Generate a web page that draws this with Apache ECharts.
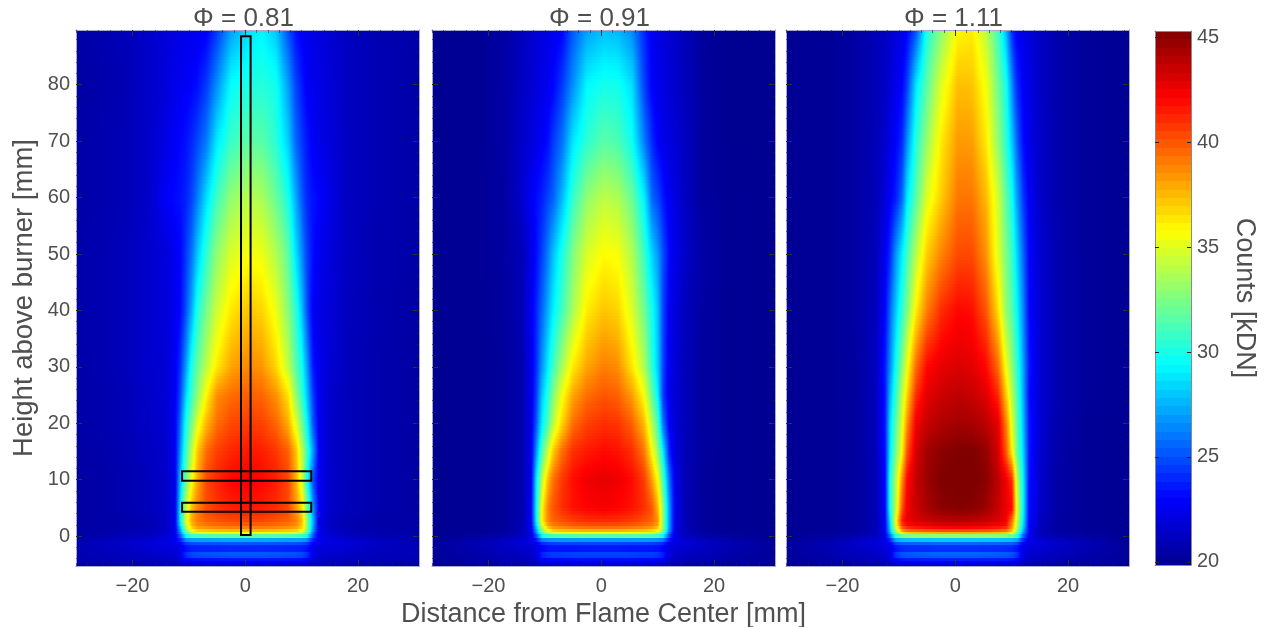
<!DOCTYPE html>
<html><head><meta charset="utf-8">
<style>html,body{margin:0;padding:0;background:#fff}#c{width:1271px;height:627px;filter:blur(0.45px)}</style>
<script src="https://cdn.jsdelivr.net/npm/echarts@6/dist/echarts.min.js"></script>
</head><body><div id="c"></div>
<script>
const panelTitles = ['Φ = 0.81','Φ = 0.91','Φ = 1.11'];
const xNodes = [-30,-22,-17,-14,-12.5,-11.5,-10.5,-9.5,-8.5,-7,-5,-2.5,0.5,3,5.5,7.5,9,10,11,12,13,15,18,23,30.8];
const yNodes = [-5.3,-4.4,-3.4,-2.1,-1,-0.3,0.4,1.2,2.5,5,10,15,20,25,30,40,50,60,70,80,89.7];
const xMajor = [-20,0,20];
const xMinor = [-30,-28,-26,-24,-22,-20,-18,-16,-14,-12,-10,-8,-6,-4,-2,0,2,4,6,8,10,12,14,16,18,20,22,24,26,28,30];
const yMajor = [0,10,20,30,40,50,60,70,80];
const yMinor = [-4,-2,0,2,4,6,8,10,12,14,16,18,20,22,24,26,28,30,32,34,36,38,40,42,44,46,48,50,52,54,56,58,60,62,64,66,68,70,72,74,76,78,80,82,84,86,88];
const barTicks = [20,25,30,35,40,45];
const jetStops = [[0,0,143],[0,0,255],[0,128,255],[0,255,255],[128,255,128],[255,255,0],[255,128,0],[255,0,0],[128,0,0]];
const overlayBoxes = [[-0.75,0.2,0.95,88.6],[-11.2,9.8,11.7,11.5],[-11.2,4.3,11.7,5.9]];

const counts081 = [
[20.6,20.9,21,21.1,21.2,21.4,21.6,21.7,21.7,21.8,21.8,21.9,21.9,21.9,21.8,21.8,21.7,21.7,21.6,21.4,21.2,21.1,21,20.9,20.7],
[20.7,21,21.2,21.3,21.5,21.9,22.3,22.5,22.6,22.6,22.7,22.7,22.7,22.7,22.7,22.6,22.6,22.5,22.3,21.9,21.5,21.3,21.2,21,20.8],
[20.8,21.1,21.4,21.6,21.8,22.4,24.6,25.3,25.5,25.6,25.7,25.8,25.8,25.8,25.7,25.6,25.5,25.3,24.6,22.4,21.8,21.6,21.4,21.1,20.9],
[20.9,21.3,21.7,21.9,22,22.3,23,23.2,23.3,23.3,23.3,23.4,23.4,23.4,23.3,23.3,23.3,23.2,23,22.3,22,21.9,21.7,21.3,21],
[20.8,21.5,22,22.3,22.5,23,25,25.5,25.6,25.6,25.7,25.8,25.8,25.8,25.7,25.6,25.6,25.5,25,23.2,22.5,22.3,22,21.5,20.9],
[20.6,21,21.5,21.9,22.5,24.5,28,28.5,28.5,28.5,28.6,28.7,28.7,28.7,28.6,28.5,28.5,28.5,28,24.7,22.5,21.9,21.5,21,20.7],
[20.5,20.8,21.1,21.6,22.5,25.5,31,33.5,34,34.3,34.5,34.5,34.5,34.5,34.5,34.3,34,33.5,31,25.5,22.5,21.6,21.1,20.8,20.6],
[20.4,20.7,21,21.5,22.5,27,33,36.5,37.7,38,38.3,38.5,38.5,38.5,38.3,38,37.7,36.5,33,27,22.5,21.5,21,20.7,20.5],
[20.4,20.6,20.9,21.4,22.4,28.8,35,38,39,39.7,40,40.3,40.4,40.3,40,39.7,39,37.5,33,27.5,22.4,21.4,20.9,20.6,20.5],
[20.4,20.7,21.1,21.5,22.4,28.5,34.3,37.5,38.8,40.2,40.9,41.4,41.6,41.5,41.1,40.4,38.3,36.5,32.3,26.8,22.6,21.6,21.1,20.7,20.4],
[20.4,20.7,21.1,21.5,22.4,27.5,32.2,35.6,37.8,40.3,41.2,42,42.3,42,41.4,40.4,37.8,34.7,30,25,22.6,21.6,21.1,20.7,20.4],
[20.4,20.8,21.3,21.6,22.7,26.5,31,34.2,37,39.4,40.6,41.2,41.6,41.4,40.8,39.8,37.4,34,31,27,22.8,21.5,21.1,20.7,20.4],
[20.5,20.9,21.4,21.7,22.7,25.5,30,32.5,34.8,37.5,39.4,40.3,40.7,40.5,39.6,37.8,35,32.2,29.4,25.2,22.6,21.5,21.1,20.7,20.4],
[20.5,20.9,21.5,21.8,22.7,24.6,28.4,31,32.8,35.8,38.6,39.4,39.8,39.6,38.5,36.5,32.9,30.6,28,24.5,22.5,21.6,21.1,20.7,20.4],
[20.5,21,21.6,21.8,22.7,24,27,30.3,31.8,34,36.3,38,38.8,38.4,36.8,34.2,31.5,29.8,27,23.6,22.5,21.8,21.2,20.7,20.4],
[20.6,21,21.6,22,22.6,23,25,27.5,30,32.3,34.5,36.3,37.2,36.8,35.3,32.8,30.4,27.8,25,22.8,22.3,21.9,21.2,20.8,20.4],
[20.6,21,21.6,22,22.7,23,24.4,26,27.9,30.5,33,34.8,35.6,35.3,33.8,31.8,28.6,26.5,24.6,23.3,22.6,22,21.3,20.8,20.5],
[20.5,20.9,21.5,22.8,23.2,23.4,23.8,24.8,26,28.5,31,33,34,33.6,32,30,27.2,25.2,24,23.4,23.1,22.3,21.3,20.9,20.5],
[20.5,20.9,21.5,22.3,22.8,23.1,23.4,24,24.7,26,28.9,30.8,31.6,31.6,30.4,28.2,25.5,24.4,23.5,22.8,22.4,22,21.3,20.9,20.5],
[20.4,20.8,21.5,22,22.4,22.6,22.8,23,23.3,24.4,26.6,29.5,30,30.3,29.8,27,24.7,23.6,22.8,22.5,22.3,21.9,21.3,20.9,20.5],
[20.5,21,21.5,22,22.2,22.3,22.4,22.5,22.6,22.8,24.4,27,28.6,29.2,28,25,23.3,22.8,22.5,22.3,22.1,21.8,21.3,20.9,20.6]
];
const counts091 = [
[20,20.3,20.6,20.8,21,21.2,21.5,21.6,21.6,21.7,21.7,21.8,21.8,21.8,21.7,21.7,21.6,21.6,21.5,21.2,21,20.8,20.6,20.3,20],
[20.1,20.5,20.8,21,21.2,21.6,22.2,22.4,22.5,22.5,22.6,22.6,22.6,22.6,22.6,22.5,22.5,22.4,22.2,21.6,21.2,21,20.8,20.5,20.1],
[20.1,20.6,21,21.2,21.5,22.2,24.2,24.8,25,25,25.1,25.2,25.2,25.2,25.1,25,25,24.8,24.2,22.2,21.5,21.2,21,20.6,20.1],
[20.2,20.8,21.3,21.6,21.8,22,22.6,22.9,23,23,23,23.1,23.1,23.1,23,23,23,22.9,22.6,22,21.8,21.6,21.3,20.8,20.2],
[20.1,20.9,21.5,22,22.2,22.6,24.5,25,25.1,25.2,25.2,25.3,25.3,25.3,25.2,25.2,25.1,25,24.5,22.8,22.2,22,21.5,20.9,20.1],
[20,20.4,21,21.5,22.2,24.2,27.8,28.3,28.4,28.4,28.5,28.5,28.5,28.5,28.5,28.4,28.4,28.3,27.8,24.5,22.2,21.5,21,20.4,20],
[20,20.1,20.4,21,22.2,25.5,31,33.5,34,34.3,34.5,34.6,34.6,34.6,34.5,34.3,34,33.5,31,25.5,22.2,21,20.4,20.1,20],
[19.9,20,20.3,21,22.3,27,33,36.6,37.8,38.2,38.5,38.7,38.8,38.7,38.5,38.2,37.8,36.6,33,27,22.3,21,20.3,20,19.9],
[19.9,20,20.2,20.9,22.4,28.8,36,38.8,39.6,40.1,40.6,40.9,41,40.9,40.6,40.1,39.6,38.5,33,27,22.4,20.9,20.2,20,19.9],
[19.9,20,20.2,20.8,22.6,29,35.8,39,40,41,41.7,42.1,42.3,42.1,41.7,41,40,37.5,33,27,22.6,20.8,20.2,20,19.9],
[19.9,20,20.2,20.8,22.4,28.5,34,37.5,39.3,40.8,41.8,42.5,42.7,42.5,41.9,40.7,38.2,35.5,31.3,26,22.4,20.9,20.2,20,19.9],
[19.9,20,20.2,20.8,22.3,26.4,31.3,34.4,37,39.4,41,41.5,41.9,41.7,41,39.2,35.8,32.8,29,24,22,21,20.3,20,19.9],
[19.9,20,20.2,20.8,22.3,25,29,31.4,34,36.8,39.4,40.5,41,40.8,39.7,37.5,33.8,31,26,22.9,21.9,21,20.3,20,19.9],
[19.9,20,20.2,20.8,22.4,24.4,28,30.3,32.6,35.5,38,39.4,40,39.7,38.2,35.6,31.9,29,24.5,22.6,21.8,21,20.3,20,19.9],
[19.9,20,20.2,20.8,22.5,24,26.8,29,31,33.5,36.3,38,39,38.6,36.4,33.8,30.5,28,24.8,22.6,21.9,21,20.3,20,19.9],
[19.9,20,20.3,21,22.6,23.8,25.6,27.4,29,31,33.6,36.2,37.2,36.8,34.8,32.2,29.8,27.8,24.8,22.7,22,21.1,20.4,20,19.9],
[19.9,20,20.4,21,22.3,23.2,24.6,26.2,27.8,30,32.6,34.8,35.8,35.5,33.8,30.9,28.3,26.8,25,23.2,22.4,21.4,20.5,20,19.9],
[19.9,20,20.4,21.7,22.7,23.2,23.8,24.7,25.4,27.6,30.7,33,34.1,33.7,32,29.2,25.6,24.7,23.6,22.7,22.2,21.2,20.3,20,19.9],
[19.9,20,20.5,21.5,22,22.4,22.8,23.3,24.4,25.8,28.8,30.5,31.6,31.2,29.7,26.2,24,22.9,22.4,22.1,21.8,21.2,20.3,19.9,19.9],
[19.9,20,20.5,21.3,21.7,22,22.3,22.6,23,24.4,26.6,29.3,29.9,29.8,28.6,24.7,22.9,22.5,22.2,21.9,21.6,21.1,20.3,19.9,19.9],
[19.9,20,20.5,21.2,21.6,21.9,22.1,22.3,22.6,23,25.2,27,27.8,27.6,26.5,24,22.7,22.3,22,21.8,21.5,21,20.2,19.9,19.9]
];
const counts111 = [
[20,20.4,20.7,20.9,21.1,21.3,21.6,21.7,21.8,21.8,21.9,21.9,21.9,21.9,21.9,21.8,21.8,21.7,21.6,21.3,21.1,20.9,20.7,20.4,20],
[20.1,20.5,20.9,21.1,21.3,21.7,22.4,22.7,22.8,22.9,22.9,23,23,23,22.9,22.9,22.8,22.7,22.4,21.7,21.3,21.1,20.9,20.5,20.1],
[20.2,20.7,21.1,21.4,21.6,22.4,24.8,25.6,25.8,25.9,26,26.1,26.1,26.1,26,25.9,25.8,25.6,24.8,22.4,21.6,21.4,21.1,20.7,20.2],
[20.3,20.9,21.4,21.8,22,22.3,23,23.4,23.5,23.5,23.5,23.6,23.6,23.6,23.5,23.5,23.5,23.4,23,22.3,22,21.8,21.4,20.9,20.3],
[20.1,21,21.6,22.1,22.3,23,25.5,26,26.1,26.2,26.2,26.3,26.3,26.3,26.2,26.2,26.1,26,25.5,23.2,22.3,22.1,21.6,21,20.1],
[20,20.5,21.1,21.6,22.3,25,29,29.5,29.6,29.6,29.7,29.8,29.8,29.8,29.7,29.6,29.6,29.5,29,25.2,22.3,21.6,21.1,20.5,20],
[20,20.2,20.5,21,22.6,26.5,32,35.3,35.8,36,36.2,36.3,36.3,36.3,36.2,36,35.8,35,32,26.5,22.6,21,20.5,20.2,20],
[20,20.1,20.4,21,22.8,28,34.5,39,40.5,41,41.3,41.6,41.7,41.6,41.3,41,40.5,38,33.5,28,23,21.1,20.4,20.1,20],
[20,20.1,20.3,20.9,22.8,28.5,35.8,41.5,42.5,43,43.4,43.7,43.8,43.7,43.4,43,42.5,39,34.5,29,23.2,21.2,20.4,20.1,20],
[20,20.1,20.3,21,22.9,30,34.2,40,42.5,43.4,44.3,45,45.2,45.1,44.6,43.5,42.6,42,35,29.5,23.3,21.6,20.5,20.1,20],
[20,20.1,20.3,21,23,30,33.8,38.5,42,43.6,44.6,45.3,45.5,45.5,45,43.8,42.5,41,34,29.4,23.4,21.6,20.5,20.1,20],
[20,20.1,20.3,21.1,23.3,28.8,32.5,35.8,40,43.2,44.4,45,45.3,45.3,44.8,43.2,40,36,32,28.5,23.6,21.7,20.6,20.1,20],
[20,20.1,20.3,21.2,23.5,28.5,31.7,35,38.5,42.5,43.5,44.1,44.4,44.3,43.8,42.8,39,35,31.7,28,23.6,21.8,20.7,20.1,20],
[20,20.1,20.4,21.2,23.5,27.5,30.8,34,36.8,41,42.8,43.4,43.7,43.5,42.9,41.2,37.2,33.8,31.3,27.5,23.3,21.8,20.8,20.2,20],
[20,20.1,20.4,21.3,23.6,26.5,29.8,32.7,35.3,39.5,42,42.7,43,42.8,42,39.5,35.5,33,30.6,27.3,23.6,21.8,20.8,20.2,20],
[20,20.1,20.5,21.2,23,25.5,28.2,30.5,32.5,36.1,39,41,42,41.8,40,36.6,33,31.5,29.4,26.5,23.2,21.8,20.8,20.2,20],
[20,20.1,20.5,21.1,22.6,24,26.8,29,31,34,37,38.8,40.3,40.3,38.5,35,32.5,30.8,28.4,25.7,23,21.7,20.8,20.2,20],
[20,20.1,20.5,21,22,22.8,23.8,25.6,28.8,31.6,35,37,39.2,39.2,37.5,34.6,31.7,29.8,27,24.5,22.8,21.5,20.7,20.2,20],
[20,20.1,20.5,21,21.6,22.3,23,24,26.5,30.3,33.2,36.2,38.3,38.2,36.3,33,30.6,28,25.5,23.3,22.4,21.5,20.7,20.2,20],
[20,20.1,20.5,21,21.4,21.9,22.5,23,24.5,28.8,31.7,34.9,37.4,37.2,35.5,32.2,30,26.5,24,22.9,22.3,21.4,20.7,20.2,20],
[20,20.1,20.5,21,21.3,21.6,22,22.4,23,25,30.1,32.8,35.9,36.2,34.1,31,27.7,24,22.8,22.3,22,21.4,20.7,20.2,20]
];

const panels = [counts081, counts091, counts111];
const panelLeft = [76, 432, 786];
const C_MIN = 19.85, C_MAX = 45.3;
const TEXT = '#4f4f4f', FONT = '"Liberation Sans", Arial, sans-serif', FRAME = '#a9a9cf';

function jet(v){
  let t = (v - C_MIN) / (C_MAX - C_MIN) * 8;
  t = Math.max(0, Math.min(7.9999, t));
  const i = Math.floor(t), f = t - i, a = jetStops[i], b = jetStops[i + 1];
  return 'rgb(' + a.map((c, k) => Math.round(c + (b[k] - c) * f)).join(',') + ')';
}
function cellData(m){
  const out = [];
  for (let r = 0; r < yNodes.length - 1; r++)
    for (let c = 0; c < xNodes.length - 1; c++)
      out.push([xNodes[c], xNodes[c+1], yNodes[r], yNodes[r+1], m[r][c], m[r][c+1], m[r+1][c], m[r+1][c+1]]);
  return out;
}
function renderCell(p, api){
  const a = api.coord([api.value(0), api.value(2)]), b = api.coord([api.value(1), api.value(3)]);
  const x0 = Math.round(a[0]), x1 = Math.round(b[0]), yb = a[1], yt = b[1];
  const ll = api.value(4), lr = api.value(5), ul = api.value(6), ur = api.value(7);
  const n = Math.max(1, Math.round((yb - yt) / 3)), children = [];
  for (let i = 0; i < n; i++){
    const f = (i + 0.5) / n, top = Math.round(yb - (yb - yt) * (i + 1) / n), bot = Math.round(yb - (yb - yt) * i / n);
    if (bot <= top) continue;
    const vl = ll + (ul - ll) * f, vr = lr + (ur - lr) * f, stops = [];
    for (let k = 0; k <= 5; k++) stops.push({offset: k / 5, color: jet(vl + (vr - vl) * k / 5)});
    children.push({type: 'rect', shape: {x: x0, y: top, width: x1 - x0, height: bot - top},
      style: {fill: new echarts.graphic.LinearGradient(0, 0, 1, 0, stops)}});
  }
  return {type: 'group', children};
}

const grids = [], xAxes = [], yAxes = [], series = [], titles = [];
function baseAxis(g, pos, extent, vals, len, labels, extra){
  return Object.assign({type: 'value', gridIndex: g, position: pos, min: extent[0], max: extent[1], z: 5,
    axisLine: {show: true, onZero: false, lineStyle: {color: FRAME, width: 1}},
    axisTick: {show: true, inside: true, length: len, customValues: vals, lineStyle: {color: len > 4 ? '#333' : 'rgba(30,30,30,0.6)', width: 1}},
    axisLabel: labels ? {show: true, customValues: vals, color: TEXT, fontSize: 20, fontFamily: FONT, margin: pos === 'left' ? 6 : 10,
      formatter: v => String(v).replace('-', '\u2212')} : {show: false},
    splitLine: {show: false}}, extra || {});
}
const XR = [-30, 30.8], YR = [-5.3, 89.7];
panels.forEach((m, g) => {
  grids.push({left: panelLeft[g], top: 30, width: 343, height: 536, containLabel: false, outerBoundsMode: 'none'});
  titles.push({text: panelTitles[g], left: panelLeft[g] + 162.5, top: 1, textAlign: 'center',
    textStyle: {fontSize: 26, fontWeight: 'normal', color: TEXT, fontFamily: FONT}});
  const xIndex = xAxes.length, yIndex = yAxes.length;
  xAxes.push(baseAxis(g, 'bottom', XR, xMajor, 6, true, g === 1 ? {name: 'Distance from Flame Center [mm]', nameLocation: 'middle', nameGap: 31,
    nameTextStyle: {fontSize: 27, color: TEXT, fontFamily: FONT}} : {}));
  xAxes.push(baseAxis(g, 'bottom', XR, xMinor, 3, false));
  xAxes.push(baseAxis(g, 'top', XR, xMajor, 6, false));
  xAxes.push(baseAxis(g, 'top', XR, xMinor, 3, false));
  yAxes.push(baseAxis(g, 'left', YR, yMajor, 6, g === 0, g === 0 ? {name: 'Height above burner [mm]', nameLocation: 'middle', nameGap: 38,
    nameTextStyle: {fontSize: 27.5, color: TEXT, fontFamily: FONT}} : {}));
  yAxes.push(baseAxis(g, 'left', YR, yMinor, 3, false));
  yAxes.push(baseAxis(g, 'right', YR, yMajor, 6, false));
  yAxes.push(baseAxis(g, 'right', YR, yMinor, 3, false));
  series.push({type: 'custom', name: panelTitles[g], xAxisIndex: xIndex, yAxisIndex: yIndex, data: cellData(m),
    encode: {x: [0, 1], y: [2, 3]}, renderItem: renderCell, animation: false, progressive: 0, silent: true, z: 2, clip: true});
  if (g === 0) series.push({type: 'custom', name: 'regions', xAxisIndex: xIndex, yAxisIndex: yIndex, data: overlayBoxes,
    encode: {x: [0, 2], y: [1, 3]}, animation: false, silent: true, z: 8,
    renderItem: (p, api) => {
      const a = api.coord([api.value(0), api.value(1)]), b = api.coord([api.value(2), api.value(3)]);
      return {type: 'rect', shape: {x: a[0], y: b[1], width: b[0] - a[0], height: a[1] - b[1]},
        style: {fill: 'none', stroke: '#000', lineWidth: 2}};
    }});
});

// colour bar: 64 flat levels
const barLevels = [];
for (let i = 0; i < 64; i++) barLevels.push(i);
const barStep = (C_MAX - C_MIN) / 64;
const barBase = barLevels.map(i => [0, 1, C_MIN + i * barStep, C_MIN + (i + 1) * barStep]);
const gb = grids.length;
grids.push({left: 1155, top: 31, width: 36, height: 534, outerBoundsMode: 'none'});
const bxi = xAxes.length, byi = yAxes.length;
xAxes.push({type: 'value', gridIndex: gb, min: 0, max: 1, show: false});
const barAxis = (pos, labels, extra) => Object.assign({type: 'value', gridIndex: gb, position: pos, min: C_MIN, max: C_MAX, z: 5,
  axisLine: {show: true, onZero: false, lineStyle: {color: '#8a8a8a', width: 1}},
  axisTick: {show: true, inside: true, length: 4, customValues: barTicks, lineStyle: {color: '#222'}},
  axisLabel: labels ? {show: true, customValues: barTicks, color: TEXT, fontSize: 20, fontFamily: FONT, margin: 6} : {show: false},
  splitLine: {show: false}}, extra || {});
yAxes.push(barAxis('right', true, {name: 'Counts [kDN]', nameLocation: 'middle', nameRotate: -90, nameGap: 40,
  nameTextStyle: {fontSize: 27, color: TEXT, fontFamily: FONT}}));
yAxes.push(barAxis('left', false));
xAxes.push({type: 'value', gridIndex: gb, position: 'top', min: 0, max: 1, z: 5, axisLine: {show: true, onZero: false, lineStyle: {color: '#8a8a8a'}}, axisTick: {show: false}, axisLabel: {show: false}, splitLine: {show: false}});
xAxes.push({type: 'value', gridIndex: gb, position: 'bottom', min: 0, max: 1, z: 5, axisLine: {show: true, onZero: false, lineStyle: {color: '#8a8a8a'}}, axisTick: {show: false}, axisLabel: {show: false}, splitLine: {show: false}});
series.push({type: 'custom', name: 'colorbar', xAxisIndex: bxi, yAxisIndex: byi, data: barBase, encode: {x: [0, 1], y: [2, 3]},
  animation: false, silent: true, z: 2,
  renderItem: (p, api) => {
    const a = api.coord([api.value(0), api.value(2)]), b = api.coord([api.value(1), api.value(3)]);
    const top = Math.round(b[1]), bot = Math.round(a[1]);
    return {type: 'rect', shape: {x: a[0], y: top, width: b[0] - a[0], height: bot - top},
      style: {fill: jet((api.value(2) + api.value(3)) / 2)}};
  }});

const chart = echarts.init(document.getElementById('c'), null, {renderer: 'canvas', width: 1271, height: 627});
chart.setOption({animation: false, backgroundColor: '#fff', title: titles, grid: grids, xAxis: xAxes, yAxis: yAxes, series: series});
</script></body></html>
